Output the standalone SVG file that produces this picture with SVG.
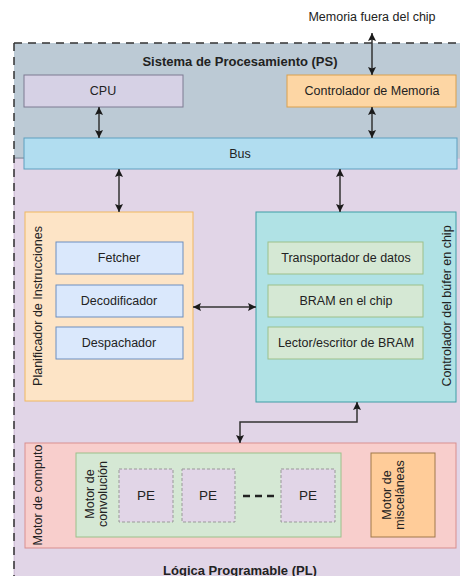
<svg xmlns="http://www.w3.org/2000/svg" width="460" height="576" viewBox="0 0 460 576">
<defs>
<marker id="ah" viewBox="0 0 8 8" markerWidth="8" markerHeight="8" refX="8" refY="4" orient="auto-start-reverse" markerUnits="userSpaceOnUse">
<path d="M0,0 L8,4 L0,8 L1.5,4 z" fill="#1a1a1a"/>
</marker>
<style>
text{font-family:"Liberation Sans",Arial,sans-serif;font-size:12.5px;fill:#222;text-anchor:middle;dominant-baseline:central}
.b{font-weight:bold;font-size:13px}
.pe{font-size:13.5px}
.c{fill:none;stroke:#333;stroke-width:1.5}
.blue{fill:#dae8fc;stroke:#6c8ebf}
.green{fill:#d5e8d4;stroke:#9cc08a}
.pebox{fill:#e1d5e7;stroke:#999;stroke-dasharray:3 2}
</style>
</defs>
<rect width="460" height="576" fill="#fff"/>
<g id="pl">
<rect x="14" y="158" width="460" height="430" fill="#e1d5e7" stroke="#9673a6" stroke-opacity="0.4"/>
<text class="b" x="240" y="570">Lógica Programable (PL)</text>
</g>
<g id="ps">
<rect x="14" y="43" width="460" height="115" fill="#bccad5"/>
<path d="M14,158 H24" stroke="#7b8a96"/>
<path d="M14,43 H460 M14,43 V576" fill="none" stroke="#333" stroke-width="1.5" stroke-dasharray="8 6"/>
<text class="b" x="240" y="61">Sistema de Procesamiento (PS)</text>
</g>
<g id="cpu">
<rect x="24" y="75" width="159" height="32" fill="#d6d1e5" stroke="#7d7a92"/>
<text x="103" y="91">CPU</text>
</g>
<g id="ctrl-mem">
<rect x="287" y="75" width="169" height="32" fill="#fdd6a4" stroke="#d9a04e"/>
<text x="372" y="91">Controlador de Memoria</text>
</g>
<g id="mem-label">
<text x="372" y="17">Memoria fuera del chip</text>
</g>
<g id="bus">
<rect x="24" y="138" width="433" height="31" fill="#b1ddf0" stroke="#5e9fc0"/>
<text x="240" y="154">Bus</text>
</g>
<g id="planificador">
<rect x="25" y="212" width="168" height="189" fill="#fde4c6" stroke="#f0b860"/>
<text transform="translate(38,306) rotate(-90)">Planificador de Instrucciones</text>
</g>
<g id="fetcher"><rect class="blue" x="56" y="242" width="127" height="32"/><text x="119" y="258">Fetcher</text></g>
<g id="decodificador"><rect class="blue" x="56" y="285" width="127" height="32"/><text x="119" y="301">Decodificador</text></g>
<g id="despachador"><rect class="blue" x="56" y="327" width="127" height="32"/><text x="119" y="343">Despachador</text></g>
<g id="buffer-ctrl">
<rect x="256" y="212" width="200" height="190" fill="#b0e2e5" stroke="#3f9ea6"/>
<text transform="translate(447,306) rotate(-90)">Controlador del búfer en chip</text>
</g>
<g id="transportador"><rect class="green" x="268" y="242" width="155" height="32"/><text x="346" y="258">Transportador de datos</text></g>
<g id="bram"><rect class="green" x="268" y="285" width="155" height="32"/><text x="346" y="301">BRAM en el chip</text></g>
<g id="lector"><rect class="green" x="268" y="327" width="155" height="32"/><text x="346" y="343">Lector/escritor de BRAM</text></g>
<g id="motor-computo">
<rect x="25" y="443" width="431" height="105" fill="#f8cecc" stroke="#d98f8f"/>
<text transform="translate(38,495) rotate(-90)">Motor de computo</text>
</g>
<g id="motor-conv">
<rect class="green" x="76" y="453" width="265" height="84"/>
<text transform="translate(90,494) rotate(-90)">Motor de</text>
<text transform="translate(103,494) rotate(-90)">convolución</text>
</g>
<g id="pe1"><rect class="pebox" x="119" y="469" width="54" height="53"/><text class="pe" x="146" y="495">PE</text></g>
<g id="pe2"><rect class="pebox" x="182" y="469" width="53" height="53"/><text class="pe" x="208" y="495">PE</text></g>
<g id="pe3"><rect class="pebox" x="281" y="469" width="54" height="53"/><text class="pe" x="308" y="495">PE</text></g>
<g id="dots"><path d="M243,496 H276" stroke="#222" stroke-width="2.5" stroke-dasharray="7 5"/></g>
<g id="motor-misc">
<rect x="371" y="453" width="64" height="84" fill="#ffcc99" stroke="#a0784a"/>
<text transform="translate(387,495) rotate(-90)">Motor de</text>
<text transform="translate(400,495) rotate(-90)">misceláneas</text>
</g>
<g id="connectors">
<path class="c" d="M372,33 V75" marker-start="url(#ah)" marker-end="url(#ah)"/>
<path class="c" d="M99,107 V138" marker-start="url(#ah)" marker-end="url(#ah)"/>
<path class="c" d="M372,107 V138" marker-start="url(#ah)" marker-end="url(#ah)"/>
<path class="c" d="M119,169 V212" marker-start="url(#ah)" marker-end="url(#ah)"/>
<path class="c" d="M340,169 V212" marker-start="url(#ah)" marker-end="url(#ah)"/>
<path class="c" d="M193,307 H256" marker-start="url(#ah)" marker-end="url(#ah)"/>
<path class="c" d="M357,402 V422 H240 V443" marker-start="url(#ah)" marker-end="url(#ah)"/>
</g>
</svg>
